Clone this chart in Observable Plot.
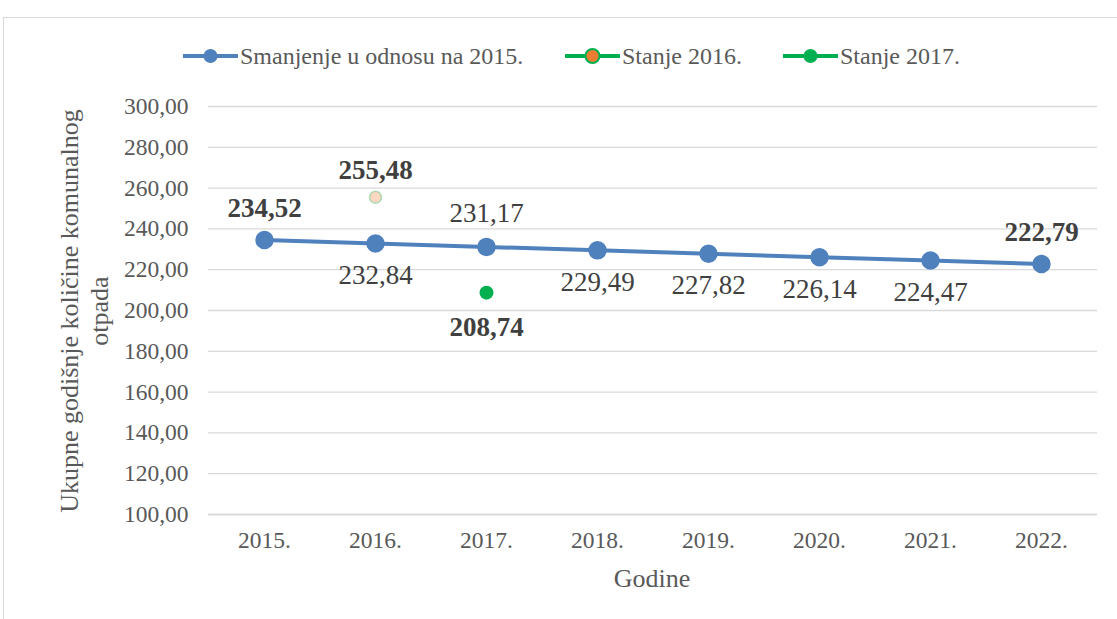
<!DOCTYPE html>
<html><head><meta charset="utf-8">
<script src="https://cdn.jsdelivr.net/npm/d3@7"></script>
<script src="https://cdn.jsdelivr.net/npm/@observablehq/plot@0.6"></script>
<style>
body{margin:0;background:#fff;font-family:'Liberation Serif',serif;}
#wrap{position:relative;width:1117px;height:619px;overflow:hidden;font-family:'Liberation Serif',serif;}
#frame{position:absolute;left:3px;top:17px;width:1120px;height:610px;border-left:1.5px solid #d9d9d9;border-top:1.5px solid #d9d9d9;}
#chart{position:absolute;left:0;top:0;}
.legend{position:absolute;top:43px;left:0;width:1117px;height:26px;font-size:24px;color:#595959;}
.li{position:absolute;top:0;display:flex;align-items:center;height:26px;}
.li svg{margin-right:2px;}
#ylab{position:absolute;left:85px;top:311px;transform:translate(-50%,-50%) rotate(-90deg);font-size:26px;color:#595959;text-align:center;white-space:nowrap;line-height:30px;}
#xlab{position:absolute;left:652px;top:579px;transform:translate(-50%,-50%);font-size:26px;color:#595959;}
</style></head>
<body>
<div id="wrap">
<div id="frame"></div>
<div id="chart"></div>
<div class="legend" id="legend"></div>
<div id="ylab">Ukupne godišnje količine komunalnog<br>otpada</div>
<div id="xlab">Godine</div>
</div>
<script>
const years = ["2015.","2016.","2017.","2018.","2019.","2020.","2021.","2022."];
const smanjenje = [234.52,232.84,231.17,229.49,227.82,226.14,224.47,222.79];
const stanje2016Year = ["2016."];
const stanje2016 = [255.48];
const stanje2017Year = ["2017."];
const stanje2017 = [208.74];
const yTicks = [100,120,140,160,180,200,220,240,260,280,300];
const seriesNames = ["Smanjenje u odnosu na 2015.","Stanje 2016.","Stanje 2017."];

const fmt = v => v.toFixed(2).replace(".", ",");
const blue = "#4F81BD", green = "#00B050", orange = "#ED7D31";
const serif = "'Liberation Serif', serif";

const main = years.map((y,i)=>({year:y, value:smanjenje[i], i}));
const s16 = stanje2016Year.map((y,i)=>({year:y, value:stanje2016[i]}));
const s17 = stanje2017Year.map((y,i)=>({year:y, value:stanje2017[i]}));

const aboveIdx = new Set([0,2,7]);
const boldIdx = new Set([0,7]);
const aboveBold = main.filter(d=>aboveIdx.has(d.i) && boldIdx.has(d.i));
const aboveNormal = main.filter(d=>aboveIdx.has(d.i) && !boldIdx.has(d.i));
const below = main.filter(d=>!aboveIdx.has(d.i));

const chart = Plot.plot({
  width:1117, height:619,
  marginTop:106, marginBottom:105, marginLeft:208, marginRight:20,
  style:{fontFamily:serif, color:"#595959", background:"transparent", overflow:"visible"},
  x:{type:"point", domain:years, padding:0.5},
  y:{domain:[100,300]},
  marks:[
    Plot.gridY(yTicks, {stroke:"#d9d9d9", strokeOpacity:1, strokeWidth:1.3}),
    Plot.axisY(yTicks, {tickFormat:fmt, tickSize:0, tickPadding:20, fontSize:23.5, fontFamily:serif, label:null}),
    Plot.axisX({tickSize:0, tickPadding:17, fontSize:23.5, fontFamily:serif, label:null}),
    Plot.line(main, {x:"year", y:"value", stroke:blue, strokeWidth:4}),
    Plot.dot(main, {x:"year", y:"value", r:8.5, fill:blue, stroke:blue}),
    Plot.dot(s16, {x:"year", y:"value", r:6, fill:orange, stroke:green, strokeWidth:1.5, fillOpacity:0.3, strokeOpacity:0.3}),
    Plot.dot(s17, {x:"year", y:"value", r:7, fill:green}),
    Plot.text(aboveBold, {x:"year", y:"value", text:d=>fmt(d.value), dy:-32, fontSize:27, fontFamily:serif, fill:"#404040", fontWeight:"bold"}),
    Plot.text(aboveNormal, {x:"year", y:"value", text:d=>fmt(d.value), dy:-34, fontSize:27, fontFamily:serif, fill:"#404040"}),
    Plot.text(below, {x:"year", y:"value", text:d=>fmt(d.value), dy:32, fontSize:27, fontFamily:serif, fill:"#404040"}),
    Plot.text(s16, {x:"year", y:"value", text:d=>fmt(d.value), dy:-27, fontSize:27, fontFamily:serif, fill:"#404040", fontWeight:"bold"}),
    Plot.text(s17, {x:"year", y:"value", text:d=>fmt(d.value), dy:35, fontSize:27, fontFamily:serif, fill:"#404040", fontWeight:"bold"}),
    Plot.ruleY([100], {stroke:"#d9d9d9", strokeWidth:1.3})
  ]
});
document.getElementById("chart").appendChild(chart);

// legend
const legend = document.getElementById("legend");
const lx = [183, 565, 783];
const styles = [
  {line:blue, fill:blue, stroke:blue},
  {line:green, fill:orange, stroke:green},
  {line:green, fill:green, stroke:green}
];
seriesNames.forEach((name,i)=>{
  const d = document.createElement("div");
  d.className = "li";
  d.style.left = lx[i]+"px";
  const s = styles[i];
  d.innerHTML = `<svg width="55" height="20"><line x1="0" x2="55" y1="10" y2="10" stroke="${s.line}" stroke-width="4"/><circle cx="27.5" cy="10" r="7" fill="${s.fill}" stroke="${s.stroke}" stroke-width="${i===1?2:0}"/></svg><span>${name}</span>`;
  legend.appendChild(d);
});
</script>
</body></html>
